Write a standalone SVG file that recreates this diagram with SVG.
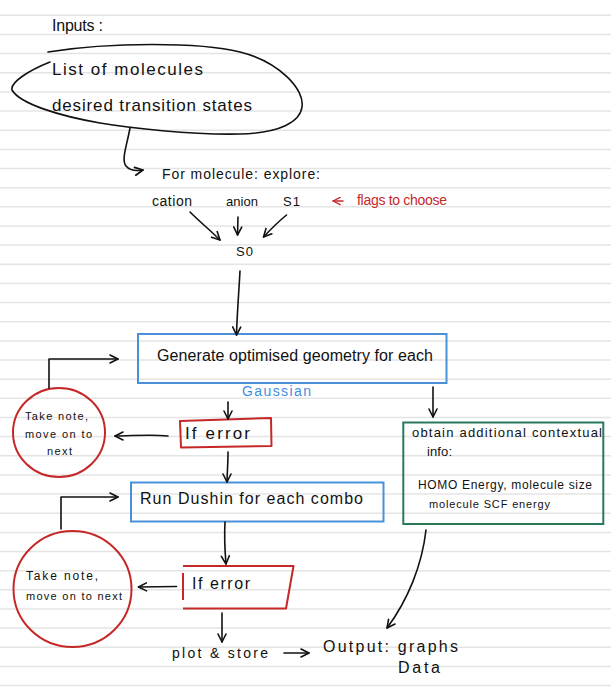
<svg xmlns="http://www.w3.org/2000/svg" width="611" height="692" viewBox="0 0 611 692">
<defs>
<style>
.rule{stroke:#e4e4e4;stroke-width:1.5}
.t{font-family:"Liberation Sans","DejaVu Sans",sans-serif;fill:#111}
.c{fill:none;stroke:#111;stroke-width:1.6;stroke-linecap:round;stroke-linejoin:round}
.blue{fill:none;stroke:#4a90d9;stroke-width:2}
.red{fill:none;stroke:#c62828;stroke-width:2;stroke-linejoin:round}
.green{fill:none;stroke:#2a7a5a;stroke-width:2}
</style>
<marker id="ah" viewBox="0 0 10 10" refX="9" refY="5" markerWidth="10" markerHeight="10" markerUnits="userSpaceOnUse" orient="auto">
<path d="M1,1 L9,5 L1,9" fill="none" stroke="#111" stroke-width="1.6" stroke-linecap="round" stroke-linejoin="round"/>
</marker>
<marker id="ahr" viewBox="0 0 10 10" refX="9" refY="5" markerWidth="9" markerHeight="9" markerUnits="userSpaceOnUse" orient="auto">
<path d="M1,1 L9,5 L1,9" fill="none" stroke="#c62828" stroke-width="1.5" stroke-linecap="round" stroke-linejoin="round"/>
</marker>
</defs>
<rect width="611" height="692" fill="#ffffff"/>
<g id="paper-lines">
<line class="rule" x1="0" x2="611" y1="15.3" y2="15.3"/><line class="rule" x1="0" x2="611" y1="34.5" y2="34.5"/><line class="rule" x1="0" x2="611" y1="53.6" y2="53.6"/><line class="rule" x1="0" x2="611" y1="72.8" y2="72.8"/><line class="rule" x1="0" x2="611" y1="91.9" y2="91.9"/><line class="rule" x1="0" x2="611" y1="111.1" y2="111.1"/><line class="rule" x1="0" x2="611" y1="130.2" y2="130.2"/><line class="rule" x1="0" x2="611" y1="149.4" y2="149.4"/><line class="rule" x1="0" x2="611" y1="168.5" y2="168.5"/><line class="rule" x1="0" x2="611" y1="187.7" y2="187.7"/><line class="rule" x1="0" x2="611" y1="206.8" y2="206.8"/><line class="rule" x1="0" x2="611" y1="226" y2="226"/><line class="rule" x1="0" x2="611" y1="245.1" y2="245.1"/><line class="rule" x1="0" x2="611" y1="264.3" y2="264.3"/><line class="rule" x1="0" x2="611" y1="283.4" y2="283.4"/><line class="rule" x1="0" x2="611" y1="302.6" y2="302.6"/><line class="rule" x1="0" x2="611" y1="321.7" y2="321.7"/><line class="rule" x1="0" x2="611" y1="340.9" y2="340.9"/><line class="rule" x1="0" x2="611" y1="360" y2="360"/><line class="rule" x1="0" x2="611" y1="379.2" y2="379.2"/><line class="rule" x1="0" x2="611" y1="398.3" y2="398.3"/><line class="rule" x1="0" x2="611" y1="417.5" y2="417.5"/><line class="rule" x1="0" x2="611" y1="436.6" y2="436.6"/><line class="rule" x1="0" x2="611" y1="455.8" y2="455.8"/><line class="rule" x1="0" x2="611" y1="474.9" y2="474.9"/><line class="rule" x1="0" x2="611" y1="494.1" y2="494.1"/><line class="rule" x1="0" x2="611" y1="513.2" y2="513.2"/><line class="rule" x1="0" x2="611" y1="532.4" y2="532.4"/><line class="rule" x1="0" x2="611" y1="551.5" y2="551.5"/><line class="rule" x1="0" x2="611" y1="570.7" y2="570.7"/><line class="rule" x1="0" x2="611" y1="589.8" y2="589.8"/><line class="rule" x1="0" x2="611" y1="609" y2="609"/><line class="rule" x1="0" x2="611" y1="628.1" y2="628.1"/><line class="rule" x1="0" x2="611" y1="647.3" y2="647.3"/><line class="rule" x1="0" x2="611" y1="666.4" y2="666.4"/><line class="rule" x1="0" x2="611" y1="685.6" y2="685.6"/>
</g>

<g id="inputs-title">
<text class="t" x="52" y="31" font-size="16" textLength="51" lengthAdjust="spacing">Inputs :</text>
</g>

<g id="inputs">
<path class="c" d="M48,52 C110,42 200,42 240,52 C280,62 305,90 302,107 C300,122 280,133 240,134 C190,135 130,128 100,123 C60,116 20,104 12,90 C10,82 30,70 50,62"/>
<text class="t" x="52" y="75" font-size="17" textLength="151" lengthAdjust="spacing">List of molecules</text>
<text class="t" x="52" y="111" font-size="17" textLength="200" lengthAdjust="spacing">desired transition states</text>
</g>

<g id="explore">
<text class="t" x="162" y="179" font-size="14" textLength="158" lengthAdjust="spacing">For molecule: explore:</text>
</g>
<g id="cation"><text class="t" x="152" y="206" font-size="14" textLength="40" lengthAdjust="spacing">cation</text></g>
<g id="anion"><text class="t" x="226" y="206" font-size="13" textLength="32" lengthAdjust="spacing">anion</text></g>
<g id="s1"><text class="t" x="283" y="206" font-size="13" textLength="17" lengthAdjust="spacing">S1</text></g>
<g id="flags-note"><text x="357" y="205" font-size="14" font-family="Liberation Sans, DejaVu Sans, sans-serif" fill="#c62828" textLength="90" lengthAdjust="spacing">flags to choose</text></g>
<g id="s0"><text class="t" x="236" y="256" font-size="13" textLength="17" lengthAdjust="spacing">S0</text></g>

<g id="generate">
<rect class="blue" x="138" y="334" width="308.5" height="49"/>
<text class="t" x="157" y="361" font-size="16" textLength="276" lengthAdjust="spacing">Generate optimised geometry for each</text>
</g>
<g id="gaussian-label"><text x="242" y="396" font-size="14" font-family="Liberation Sans, DejaVu Sans, sans-serif" fill="#3f8ee3" textLength="69" lengthAdjust="spacing">Gaussian</text></g>

<g id="error1">
<path class="red" d="M180,421 L271,418 L271.5,446 L181,447.5 Z"/>
<text class="t" x="185" y="439" font-size="17" textLength="65" lengthAdjust="spacing">If error</text>
</g>

<g id="note1">
<ellipse cx="59" cy="432.5" rx="46" ry="44.5" fill="none" stroke="#c62828" stroke-width="2"/>
<text class="t" x="25" y="420" font-size="11" textLength="63" lengthAdjust="spacing">Take note,</text>
<text class="t" x="25" y="438" font-size="11" textLength="67" lengthAdjust="spacing">move on to</text>
<text class="t" x="47" y="455" font-size="11" textLength="25" lengthAdjust="spacing">next</text>
</g>

<g id="contextual">
<rect class="green" x="403.3" y="422.5" width="200" height="101.5"/>
<text class="t" x="412" y="437" font-size="13" textLength="190" lengthAdjust="spacing">obtain additional contextual</text>
<text class="t" x="427" y="456" font-size="13" textLength="25" lengthAdjust="spacing">info:</text>
<text class="t" x="418" y="489" font-size="12" textLength="174" lengthAdjust="spacing">HOMO Energy, molecule size</text>
<text class="t" x="429" y="508" font-size="11" textLength="121" lengthAdjust="spacing">molecule SCF energy</text>
</g>

<g id="dushin">
<rect class="blue" x="131" y="482.5" width="252.5" height="39"/>
<text class="t" x="140" y="504" font-size="16" textLength="223" lengthAdjust="spacing">Run Dushin for each combo</text>
</g>

<g id="error2">
<path class="red" d="M183,566 L293.5,566 L286,608.5 L183,608.5 M183,573 L183,600"/>
<text class="t" x="192" y="589" font-size="16" textLength="58" lengthAdjust="spacing">If error</text>
</g>

<g id="note2">
<ellipse cx="72.5" cy="589" rx="59" ry="58" fill="none" stroke="#c62828" stroke-width="2"/>
<text class="t" x="26" y="580" font-size="12" textLength="72" lengthAdjust="spacing">Take note,</text>
<text class="t" x="26" y="600" font-size="11" textLength="96" lengthAdjust="spacing">move on to next</text>
</g>

<g id="plot-store"><text class="t" x="172" y="658" font-size="14" textLength="96" lengthAdjust="spacing">plot &amp; store</text></g>
<g id="output">
<text class="t" x="323" y="652" font-size="16" textLength="135" lengthAdjust="spacing">Output: graphs</text>
<text class="t" x="398" y="673" font-size="16" textLength="42" lengthAdjust="spacing">Data</text>
</g>

<g id="connectors">
<path class="c" d="M130,128 C127,145 121,160 126,166 C130,171 137,171 143,170" marker-end="url(#ah)"/>
<path d="M343,201 L333,201" fill="none" stroke="#c62828" stroke-width="1.5" stroke-linecap="round" marker-end="url(#ahr)"/>
<path class="c" d="M190,212 C200,222 210,230 220,240" marker-end="url(#ah)"/>
<path class="c" d="M238,217 L237.5,235" marker-end="url(#ah)"/>
<path class="c" d="M286.5,215 C278,222 270,230 263.5,237" marker-end="url(#ah)"/>
<path class="c" d="M240,271 C239,290 237,315 236.5,335" marker-end="url(#ah)"/>
<path class="c" d="M228,402 L228,419" marker-end="url(#ah)"/>
<path class="c" d="M433,387 L433,417" marker-end="url(#ah)"/>
<path class="c" d="M168,436 C150,434 132,436 115,436" marker-end="url(#ah)"/>
<path class="c" d="M49,388 L49,359 L118,359" marker-end="url(#ah)"/>
<path class="c" d="M228,452 C228,465 227,475 227,482" marker-end="url(#ah)"/>
<path class="c" d="M225,522 C224,540 225,552 226,564" marker-end="url(#ah)"/>
<path class="c" d="M61,529 L61,497 L118,497" marker-end="url(#ah)"/>
<path class="c" d="M176.5,586.5 L138.5,587" marker-end="url(#ah)"/>
<path class="c" d="M222,613 L222,642" marker-end="url(#ah)"/>
<path class="c" d="M284,653 L309,653" marker-end="url(#ah)"/>
<path class="c" d="M426,530 C422,565 408,600 387,628" marker-end="url(#ah)"/>
</g>
</svg>
